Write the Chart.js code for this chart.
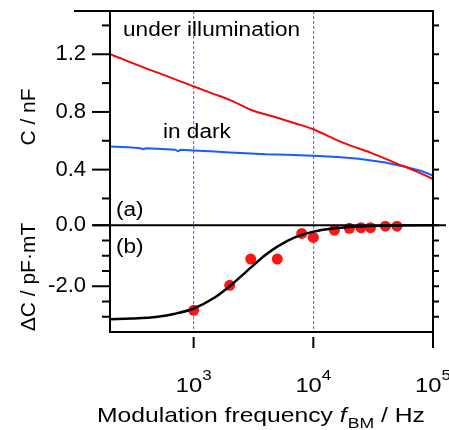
<!DOCTYPE html>
<html><head><meta charset="utf-8">
<script src="https://cdn.jsdelivr.net/npm/chart.js@4.4.0/dist/chart.umd.min.js"></script>
<style>html,body{margin:0;padding:0;background:#fff;}#wrap{width:449px;height:430px;}</style>
</head><body><div id="wrap"><canvas id="c" width="449" height="430"></canvas></div>
<script>
// ---- data ----
const freqIllum = [200, 250, 300, 400, 500, 700, 1000, 1500, 2000, 3000, 5000, 7000, 10000, 15000, 20000, 30000, 50000, 70000, 100000];
const capIllum  = [1.200, 1.170, 1.143, 1.102, 1.073, 1.026, 0.977, 0.922, 0.884, 0.815, 0.760, 0.722, 0.680, 0.612, 0.570, 0.518, 0.442, 0.393, 0.335];

const freqDark = [200, 280, 360, 380, 400, 550, 700, 740, 780, 1000, 1500, 2000, 3000, 4000, 6000, 10000, 16000, 24000, 40000, 58000, 80000, 100000];
const capDark  = [0.560, 0.556, 0.548, 0.541, 0.548, 0.543, 0.538, 0.528, 0.537, 0.532, 0.525, 0.519, 0.512, 0.506, 0.503, 0.497, 0.487, 0.476, 0.449, 0.420, 0.390, 0.358];

const freqDelta = [1000, 2000, 3000, 5000, 8000, 10000, 15000, 20000, 25000, 30000, 40000, 50000];
const deltaC    = [-2.79, -1.97, -1.11, -1.11, -0.27, -0.40, -0.16, -0.10, -0.08, -0.08, -0.03, -0.03];

const freqFit = [200, 300, 500, 700, 1000, 1500, 2000, 2500, 3000, 4000, 5000, 7000, 10000, 15000, 20000, 30000, 50000, 100000];
const deltaFit = [-3.08, -3.06, -3.00, -2.90, -2.73, -2.37, -2.00, -1.67, -1.39, -0.97, -0.70, -0.40, -0.21, -0.10, -0.055, -0.025, -0.009, -0.002];

const xTickValues = [1000, 10000, 100000];
const xTickExps   = ['3', '4', '5'];
const yTopMajor = [0.4, 0.8, 1.2];
const yTopLabels = ['0.4', '0.8', '1.2'];
const yTopMinor = [0.2, 0.6, 1.0, 1.4];
const yBotMajor = [-2.0, 0.0];
const yBotLabels = ['-2.0', '0.0'];
const yBotMinor = [-0.5, -1.0, -1.5, -2.5, -3.0];

const FONT = '"Liberation Sans", Arial, sans-serif';
const SX = 1.13;

function txt(ctx, s, x, y, size, o) {
  o = o || {};
  ctx.save();
  ctx.font = (o.italic ? 'italic ' : '') + size + 'px ' + FONT;
  ctx.fillStyle = '#000';
  ctx.textBaseline = 'alphabetic';
  ctx.textAlign = o.align || 'left';
  ctx.translate(x, y);
  if (o.rot) ctx.rotate(o.rot);
  const sx = o.sx === undefined ? SX : o.sx;
  ctx.scale(sx, 1);
  ctx.fillText(s, 0, 0);
  const w = ctx.measureText(s).width * sx;
  ctx.restore();
  return w;
}
function measure(ctx, s, size, italic, sx) {
  ctx.save();
  ctx.font = (italic ? 'italic ' : '') + size + 'px ' + FONT;
  const w = ctx.measureText(s).width * (sx === undefined ? SX : sx);
  ctx.restore();
  return w;
}
function seg(ctx, x1, y1, x2, y2) { ctx.beginPath(); ctx.moveTo(x1, y1); ctx.lineTo(x2, y2); ctx.stroke(); }

const framePlugin = {
  id: 'frame',
  afterDraw(chart) {
    const { ctx, chartArea: a, scales } = chart;
    const yT = scales.yTop, yB = scales.yBot, x = scales.x;
    ctx.save();
    ctx.strokeStyle = '#000';
    ctx.lineCap = 'butt';
    ctx.lineWidth = 2;
    // frame
    seg(ctx, 74, a.top, a.right + 1, a.top);
    seg(ctx, a.left, a.top - 1, a.left, a.bottom + 1);
    seg(ctx, a.right, a.top - 1, a.right, a.bottom + 16);
    seg(ctx, a.left - 1, a.bottom, a.right + 1, a.bottom);
    // zero line of the lower panel
    const y0 = yB.getPixelForValue(0);
    seg(ctx, 93, y0, 446, y0);
    // left ticks
    yTopMajor.forEach(v => { const p = yT.getPixelForValue(v); seg(ctx, 92, p, a.left, p); });
    yTopMinor.forEach(v => { const p = yT.getPixelForValue(v); seg(ctx, 102, p, a.left, p); });
    yBotMajor.forEach(v => { const p = yB.getPixelForValue(v); seg(ctx, 92, p, a.left, p); });
    yBotMinor.forEach(v => { const p = yB.getPixelForValue(v); seg(ctx, 102, p, a.left, p); });
    // right ticks
    yTopMajor.concat(yTopMinor).forEach(v => { const p = yT.getPixelForValue(v); seg(ctx, a.right, p, a.right + 6, p); });
    yBotMajor.concat(yBotMinor).forEach(v => { const p = yB.getPixelForValue(v); seg(ctx, a.right, p, a.right + 6, p); });
    // x ticks (with standoff) and labels
    xTickValues.forEach((v, i) => {
      const p = x.getPixelForValue(v);
      seg(ctx, p, a.bottom + 5, p, a.bottom + 16);
      const w1 = measure(ctx, '10', 21), w2 = measure(ctx, xTickExps[i], 15);
      const x0 = p - (w1 + w2) / 2;
      txt(ctx, '10', x0, 392, 21);
      txt(ctx, xTickExps[i], x0 + w1, 380, 15);
    });
    // x title
    const TS = 1.175;
    let cx = 97;
    cx += txt(ctx, 'Modulation frequency ', cx, 422, 21, { sx: TS });
    cx += txt(ctx, 'f', cx, 422, 21, { italic: true, sx: TS }) + 1;
    cx += txt(ctx, 'BM', cx, 428, 15, { sx: TS });
    txt(ctx, ' / Hz', cx, 422, 21, { sx: TS });
    // y titles
    txt(ctx, 'C / nF', 35, 117, 21, { rot: -Math.PI / 2, align: 'center', sx: 1 });
    txt(ctx, '\u0394C / pF\u00B7mT', 35, 277, 21, { rot: -Math.PI / 2, align: 'center', sx: 1 });
    // annotations
    txt(ctx, 'under illumination', 123, 36, 20);
    txt(ctx, 'in dark', 163, 138, 20);
    txt(ctx, '(a)', 116, 216, 20);
    txt(ctx, '(b)', 116, 253, 20);
    ctx.restore();
  }
};

const pts = (xs, ys) => xs.map((f, i) => ({ x: f, y: ys[i] }));
const noPad = s => { s.paddingTop = 0; s.paddingBottom = 0; s.paddingLeft = 0; s.paddingRight = 0; };

new Chart(document.getElementById('c'), {
  type: 'line',
  data: {
    datasets: [
      { label: 'under illumination', data: pts(freqIllum, capIllum), yAxisID: 'yTop', borderColor: '#f00a0a', borderWidth: 2, pointRadius: 0, cubicInterpolationMode: 'monotone' },
      { label: 'in dark', data: pts(freqDark, capDark), yAxisID: 'yTop', borderColor: '#1a5aff', borderWidth: 2, pointRadius: 0, tension: 0 },
      { label: 'fit', data: pts(freqFit, deltaFit), yAxisID: 'yBot', borderColor: '#000', borderWidth: 2.5, pointRadius: 0, cubicInterpolationMode: 'monotone' },
      { label: 'ΔC', data: pts(freqDelta, deltaC), yAxisID: 'yBot', showLine: false, pointRadius: 5.5, pointBackgroundColor: '#ff1414', pointBorderWidth: 0, borderColor: '#ff1414' }
    ]
  },
  options: {
    responsive: false, animation: false, events: [],
    layout: { padding: { top: 11, right: 16, left: 0, bottom: 0 } },
    plugins: { legend: { display: false }, tooltip: { enabled: false } },
    scales: {
      x: {
        type: 'logarithmic', min: 200, max: 100000, position: 'bottom',
        afterBuildTicks: s => { s.ticks = xTickValues.map(v => ({ value: v })); },
        ticks: { display: false },
        grid: { display: true, drawTicks: false, lineWidth: 1.2, color: 'rgb(112,112,255)' },
        border: { display: false, dash: [3, 2] },
        afterFit: s => { s.height = 98; noPad(s); }
      },
      yBot: {
        type: 'linear', position: 'left', stack: 'left', stackWeight: 122, min: -3.5, max: 0.5,
        afterBuildTicks: s => { s.ticks = yBotMajor.map(v => ({ value: v })); },
        ticks: { callback: (v) => yBotLabels[yBotMajor.indexOf(v)], padding: 24, color: '#000', font: { family: FONT, size: 22 } },
        grid: { display: false, drawTicks: false }, border: { display: false },
        afterFit: s => { s.width = 110; noPad(s); }
      },
      yTop: {
        type: 'linear', position: 'left', stack: 'left', stackWeight: 199, min: 0.12, max: 1.5,
        afterBuildTicks: s => { s.ticks = yTopMajor.map(v => ({ value: v })); },
        ticks: { callback: (v) => yTopLabels[yTopMajor.indexOf(v)], padding: 24, color: '#000', font: { family: FONT, size: 22 } },
        grid: { display: false, drawTicks: false }, border: { display: false },
        afterFit: s => { s.width = 110; noPad(s); }
      }
    }
  },
  plugins: [framePlugin]
});
</script></body></html>
